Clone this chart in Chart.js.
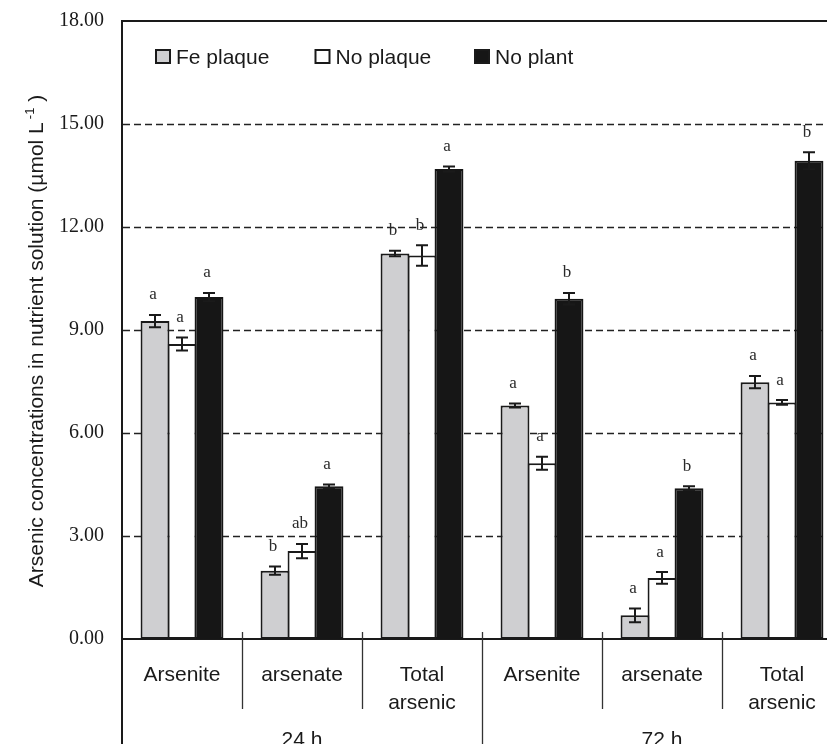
<!DOCTYPE html>
<html>
<head>
<meta charset="utf-8">
<script src="https://cdn.jsdelivr.net/npm/chart.js@4.4.1/dist/chart.umd.min.js"></script>
<style>
html,body{margin:0;padding:0;overflow:hidden;background:#ffffff;width:827px;height:744px}
canvas{display:block}
</style>
</head>
<body>
<canvas id="c" width="842" height="780"></canvas>
<script>
// ---- data ----
const categories = [['Arsenite'], ['arsenate'], ['Total', 'arsenic'], ['Arsenite'], ['arsenate'], ['Total', 'arsenic']];
const groups = ['24 h', '72 h'];
const seriesNames = ['Fe plaque', 'No plaque', 'No plant'];
const yTickValues = [0, 3, 6, 9, 12, 15, 18];
const yTitle = 'Arsenic concentrations in nutrient solution (\u00b5mol L';
const yTitleSup = '-1';

const fePlaque      = [9.26, 1.99, 11.23, 6.80, 0.69, 7.48];
const fePlaqueErr   = [0.18, 0.12, 0.08, 0.06, 0.20, 0.18];
const fePlaqueSig   = ['a', 'b', 'b', 'a', 'a', 'a'];

const noPlaque      = [8.59, 2.56, 11.17, 5.12, 1.78, 6.89];
const noPlaqueErr   = [0.19, 0.21, 0.30, 0.19, 0.17, 0.07];
const noPlaqueSig   = ['a', 'ab', 'b', 'a', 'a', 'a'];

const noPlant       = [9.96, 4.45, 13.69, 9.91, 4.39, 13.93];
const noPlantErr    = [0.12, 0.05, 0.07, 0.17, 0.06, 0.25];
const noPlantSig    = ['a', 'a', 'a', 'b', 'b', 'b'];

const INK = '#1a1a1a';
const SANS = "'Liberation Sans', Arial, Helvetica, sans-serif";
const SERIF = "'Liberation Serif', 'Times New Roman', serif";

const decorPlugin = {
  id: 'decor',
  beforeDatasetsDraw(chart) {
    const {ctx, chartArea: ca, scales: {y}} = chart;
    ctx.save();
    // dashed horizontal grid lines
    ctx.strokeStyle = '#222222';
    ctx.lineWidth = 1.4;
    ctx.setLineDash([7, 4]);
    y.ticks.forEach(t => {
      if (t.value <= y.min || t.value >= y.max) return;
      const py = Math.round(y.getPixelForValue(t.value)) + 0.5;
      ctx.beginPath(); ctx.moveTo(ca.left + 1, py); ctx.lineTo(ca.right, py); ctx.stroke();
    });
    ctx.setLineDash([]);
    // top frame line
    ctx.strokeStyle = INK; ctx.lineWidth = 2;
    const top = y.getPixelForValue(y.max);
    ctx.beginPath(); ctx.moveTo(ca.left - 1, top); ctx.lineTo(ca.right, top); ctx.stroke();
    ctx.restore();
  },
  afterDatasetsDraw(chart) {
    const {ctx, chartArea: ca, scales: {x, y}} = chart;
    ctx.save();
    // error bars and significance letters
    chart.data.datasets.forEach((ds, i) => {
      const meta = chart.getDatasetMeta(i);
      meta.data.forEach((el, j) => {
        const v = ds.data[j], e = ds.errors[j];
        const yt = y.getPixelForValue(v + e), yb = y.getPixelForValue(v - e);
        ctx.strokeStyle = INK; ctx.lineWidth = 2;
        ctx.beginPath();
        ctx.moveTo(el.x, yt); ctx.lineTo(el.x, yb);
        ctx.moveTo(el.x - 6, yt); ctx.lineTo(el.x + 6, yt);
        ctx.moveTo(el.x - 6, yb); ctx.lineTo(el.x + 6, yb);
        ctx.stroke();
        ctx.fillStyle = '#2a2a2a';
        ctx.font = '17px ' + SERIF;
        ctx.textAlign = 'center'; ctx.textBaseline = 'middle';
        ctx.fillText(ds.letters[j], el.x - 2, yt - 20);
      });
    });
    // legend inside the plot
    ctx.textAlign = 'left'; ctx.textBaseline = 'alphabetic';
    ctx.font = '21px ' + SANS;
    chart.data.datasets.forEach((ds, i) => {
      const bx = ca.left + 33 + i * 159.5, by = 49;
      ctx.fillStyle = INK; ctx.fillRect(bx, by, 16, 15);
      ctx.fillStyle = ds.backgroundColor; ctx.fillRect(bx + 2, by + 2, 12, 11);
      ctx.fillStyle = INK;
      ctx.fillText(ds.label, bx + 21, 63.5);
    });
    // category separators and group separators under the x axis
    const n = chart.data.labels.length;
    const w = (x.right - x.left) / n;
    ctx.strokeStyle = '#333333'; ctx.lineWidth = 1.3;
    for (let i = 1; i < n; i++) {
      const sx = Math.round(x.left + i * w) + 0.5;
      const isGroup = i % 3 === 0;
      ctx.beginPath(); ctx.moveTo(sx, ca.bottom - 7); ctx.lineTo(sx, isGroup ? chart.height : ca.bottom + 70); ctx.stroke();
    }
    // extension of the y axis line below the plot
    ctx.strokeStyle = INK; ctx.lineWidth = 2;
    ctx.beginPath(); ctx.moveTo(ca.left, ca.bottom); ctx.lineTo(ca.left, chart.height); ctx.stroke();
    // group labels
    ctx.fillStyle = INK; ctx.font = '21px ' + SANS; ctx.textAlign = 'center';
    groups.forEach((g, k) => {
      ctx.fillText(g, x.left + (k * 3 + 1.5) * w, 746);
    });
    // y-axis title with superscript
    ctx.translate(43, 341);
    ctx.rotate(-Math.PI / 2);
    ctx.font = '21px ' + SANS;
    const mainW = ctx.measureText(yTitle).width;
    ctx.font = '13px ' + SANS;
    const supW = ctx.measureText(yTitleSup).width;
    ctx.font = '21px ' + SANS;
    const endW = ctx.measureText(' )').width;
    const total = mainW + 3 + supW + endW;
    let tx = -total / 2;
    ctx.textAlign = 'left';
    ctx.fillText(yTitle, tx, 0); tx += mainW + 3;
    ctx.font = '13px ' + SANS;
    ctx.fillText(yTitleSup, tx, -9); tx += supW;
    ctx.font = '21px ' + SANS;
    ctx.fillText(' )', tx, 0);
    ctx.restore();
  }
};

new Chart(document.getElementById('c'), {
  type: 'bar',
  data: {
    labels: categories,
    datasets: [
      {label: seriesNames[0], data: fePlaque, errors: fePlaqueErr, letters: fePlaqueSig, backgroundColor: '#cfcfd1', borderColor: INK, borderWidth: 2},
      {label: seriesNames[1], data: noPlaque, errors: noPlaqueErr, letters: noPlaqueSig, backgroundColor: '#ffffff', borderColor: INK, borderWidth: 2},
      {label: seriesNames[2], data: noPlant, errors: noPlantErr, letters: noPlantSig, backgroundColor: '#161616', borderColor: '#161616', borderWidth: 2}
    ]
  },
  options: {
    responsive: false,
    animation: false,
    devicePixelRatio: 1,
    layout: {padding: {top: 21, left: 0, right: 0, bottom: 0}},
    datasets: {bar: {categoryPercentage: 0.675, barPercentage: 1.07, borderSkipped: false}},
    plugins: {legend: {display: false}, tooltip: {enabled: false}},
    scales: {
      x: {
        grid: {display: false, drawTicks: false},
        border: {display: true, color: INK, width: 2},
        ticks: {font: {family: SANS, size: 21, lineHeight: 1.3}, color: INK, padding: 23, autoSkip: false, maxRotation: 0, minRotation: 0},
        afterFit(s) { s.height = 141; s.paddingLeft = 0; s.paddingRight = 0; }
      },
      y: {
        min: 0, max: 18,
        afterBuildTicks(s) { s.ticks = yTickValues.map(v => ({value: v})); },
        grid: {display: false, drawTicks: false},
        border: {display: true, color: INK, width: 2},
        ticks: {font: {family: SERIF, size: 20}, color: INK, padding: 18, callback: v => Number(v).toFixed(2)},
        afterFit(s) { s.width = 122; s.paddingTop = 0; s.paddingBottom = 0; }
      }
    }
  },
  plugins: [decorPlugin]
});
</script>
</body>
</html>
